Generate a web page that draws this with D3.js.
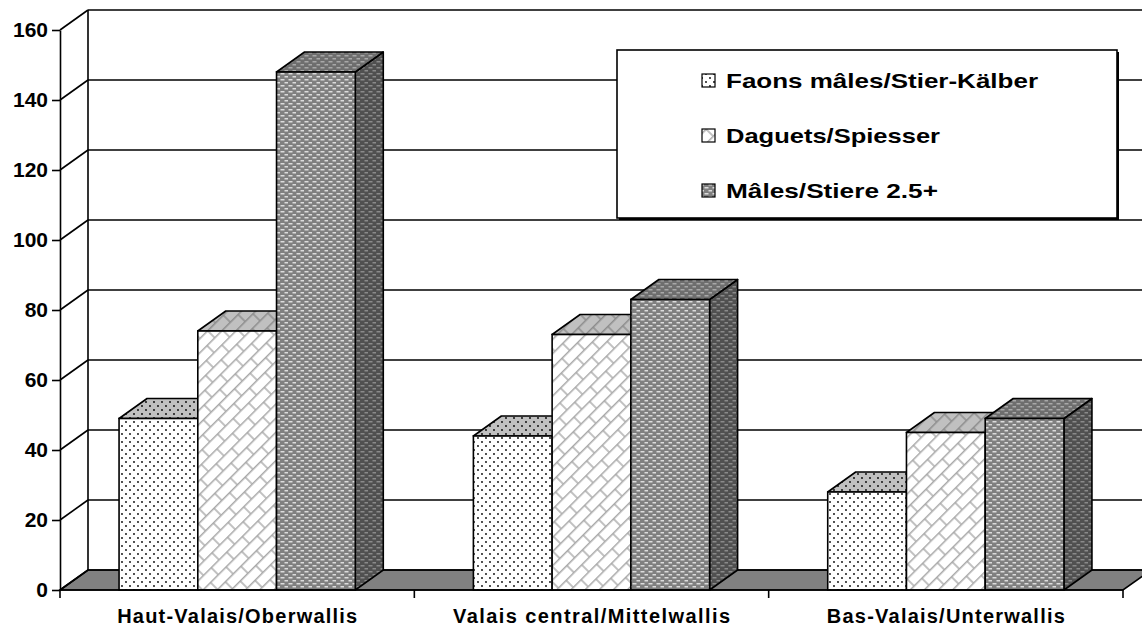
<!DOCTYPE html>
<html>
<head>
<meta charset="utf-8">
<script src="https://cdn.jsdelivr.net/npm/d3@7"></script>
<style>
  body { margin: 0; background: #fff; }
  text { font-family: Arial, "Liberation Sans", sans-serif; font-weight: bold; fill: #000; }
</style>
</head>
<body>
<svg width="1142" height="633"></svg>
<script>
// donnees
const categories = ["Haut-Valais/Oberwallis", "Valais central/Mittelwallis", "Bas-Valais/Unterwallis"];
const series = ["Faons mâles/Stier-Kälber", "Daguets/Spiesser", "Mâles/Stiere 2.5+"];
const faons = [49, 44, 28];
const daguets = [74, 73, 45];
const males = [148, 83, 49];
const yTicks = [0, 20, 40, 60, 80, 100, 120, 140, 160];

const values = [faons, daguets, males];

const svg = d3.select("svg");
const dx = 28, dy = -20;   // profondeur 3D

const y = d3.scaleLinear().domain([0, 160]).range([590, 30]);
const xCat = d3.scaleBand().domain(categories).range([60, 1123]);
const xSer = d3.scaleBand().domain(series).range([0, xCat.bandwidth()]).paddingOuter(0.75);

// motifs
const defs = svg.append("defs");
function dots(id, bg) {
  const p = defs.append("pattern").attr("id", id).attr("patternUnits", "userSpaceOnUse")
    .attr("width", 8).attr("height", 8);
  p.append("rect").attr("width", 8).attr("height", 8).attr("fill", bg);
  p.append("circle").attr("cx", 2).attr("cy", 2).attr("r", 0.9).attr("fill", "#000");
  p.append("circle").attr("cx", 6).attr("cy", 6).attr("r", 0.9).attr("fill", "#000");
}
function brick(id, bg, col) {
  const p = defs.append("pattern").attr("id", id).attr("patternUnits", "userSpaceOnUse")
    .attr("width", 22).attr("height", 20).attr("patternTransform", "rotate(-45)");
  p.append("rect").attr("width", 22).attr("height", 20).attr("fill", bg);
  p.append("path").attr("d", "M0,0.7H22M0,10.7H22M1,0V10.7M12,10.7V20")
    .attr("stroke", col).attr("stroke-width", 1.4).attr("fill", "none");
}
function dash(id, bg, col) {
  const p = defs.append("pattern").attr("id", id).attr("patternUnits", "userSpaceOnUse")
    .attr("width", 8).attr("height", 6);
  p.append("rect").attr("width", 8).attr("height", 6).attr("fill", bg);
  p.append("rect").attr("x", 0.5).attr("y", 1).attr("width", 4).attr("height", 1.5).attr("fill", col);
  p.append("rect").attr("x", 4.5).attr("y", 4).attr("width", 4).attr("height", 1.5).attr("fill", col);
}
dots("s0f", "#fff"); dots("s0t", "#c0c0c0"); dots("s0s", "#a0a0a0");
brick("s1f", "#fff", "#a8a8a8"); brick("s1t", "#c0c0c0", "#8c8c8c"); brick("s1s", "#a0a0a0", "#777");
dash("s2f", "#808080", "#dcdcdc"); dash("s2t", "#6e6e6e", "#a8a8a8"); dash("s2s", "#505050", "#8a8a8a");

// sol
svg.append("polygon")
  .attr("points", [[60, y(0)], [60 + dx, y(0) + dy], [1123 + dx, y(0) + dy], [1123, y(0)]].join(" "))
  .attr("fill", "#808080").attr("stroke", "#000").attr("stroke-width", 1.6);

// grille murale
const grid = svg.append("g");
yTicks.forEach(function (t) {
  grid.append("line").attr("x1", 60 + dx).attr("x2", 1142).attr("y1", y(t) + dy).attr("y2", y(t) + dy)
    .attr("stroke", "#000").attr("stroke-width", 1.6);
  grid.append("line").attr("x1", 60).attr("x2", 60 + dx).attr("y1", y(t)).attr("y2", y(t) + dy)
    .attr("stroke", "#000").attr("stroke-width", 1.6);
});
grid.append("line").attr("x1", 60 + dx).attr("x2", 60 + dx).attr("y1", y(160) + dy).attr("y2", y(0) + dy)
  .attr("stroke", "#000").attr("stroke-width", 1.6);

// barres 3D
const bars = svg.append("g");
categories.forEach(function (c, ci) {
  series.forEach(function (s, si) {
    const v = values[si][ci];
    const x0 = xCat(c) + xSer(s), w = xSer.bandwidth();
    const yt = y(v), yb = y(0);
    bars.append("polygon")
      .attr("points", [[x0 + w, yt], [x0 + w + dx, yt + dy], [x0 + w + dx, yb + dy], [x0 + w, yb]].join(" "))
      .attr("fill", "url(#s" + si + "s)").attr("stroke", "#000").attr("stroke-width", 1.6).attr("stroke-linejoin", "round");
    bars.append("polygon")
      .attr("points", [[x0, yt], [x0 + dx, yt + dy], [x0 + w + dx, yt + dy], [x0 + w, yt]].join(" "))
      .attr("fill", "url(#s" + si + "t)").attr("stroke", "#000").attr("stroke-width", 1.6).attr("stroke-linejoin", "round");
    bars.append("rect")
      .attr("x", x0).attr("y", yt).attr("width", w).attr("height", yb - yt)
      .attr("fill", "url(#s" + si + "f)").attr("stroke", "#000").attr("stroke-width", 1.6);
  });
});

// axe y
const yAxis = svg.append("g").attr("transform", "translate(60,0)")
  .call(d3.axisLeft(y).tickValues(yTicks).tickSize(8).tickSizeOuter(0).tickPadding(4));
yAxis.select(".domain").attr("stroke-width", 1.6);
yAxis.selectAll(".tick line").attr("stroke-width", 1.6);
yAxis.selectAll("text").style("font-size", "21px").style("font-family", "Arial, 'Liberation Sans', sans-serif")
  .style("font-weight", "bold").attr("fill", "#000");

// axe x
svg.append("line").attr("x1", 60).attr("x2", 1123).attr("y1", y(0)).attr("y2", y(0))
  .attr("stroke", "#000").attr("stroke-width", 1.6);
const bounds = categories.map(c => xCat(c)).concat([xCat(categories[2]) + xCat.bandwidth()]);
bounds.forEach(function (bx) {
  svg.append("line").attr("x1", bx).attr("x2", bx).attr("y1", y(0)).attr("y2", y(0) + 8)
    .attr("stroke", "#000").attr("stroke-width", 1.6);
});
const labelWidths = [240, 277, 238];
svg.append("g").selectAll("text").data(categories).enter().append("text")
  .attr("x", d => xCat(d) + xCat.bandwidth() / 2)
  .attr("y", 623)
  .attr("text-anchor", "middle")
  .attr("textLength", (d, i) => labelWidths[i])
  .attr("lengthAdjust", "spacing")
  .style("font-size", "20px")
  .text(d => d);

// legende
const lg = svg.append("g");
lg.append("rect").attr("x", 619).attr("y", 52).attr("width", 500).attr("height", 168).attr("fill", "#000");
lg.append("rect").attr("x", 617).attr("y", 50).attr("width", 500).attr("height", 168)
  .attr("fill", "#fff").attr("stroke", "#000").attr("stroke-width", 1.6);
const legendWidths = [312, 214, 212];
series.forEach(function (s, i) {
  const by = 88 + i * 55;
  lg.append("rect").attr("x", 702).attr("y", by - 14).attr("width", 13).attr("height", 13)
    .attr("fill", "url(#s" + i + "f)").attr("stroke", "#000").attr("stroke-width", 1.2);
  lg.append("text").attr("x", 726).attr("y", by)
    .attr("textLength", legendWidths[i]).attr("lengthAdjust", "spacingAndGlyphs")
    .style("font-size", "21px").text(s);
});
</script>
</body>
</html>
